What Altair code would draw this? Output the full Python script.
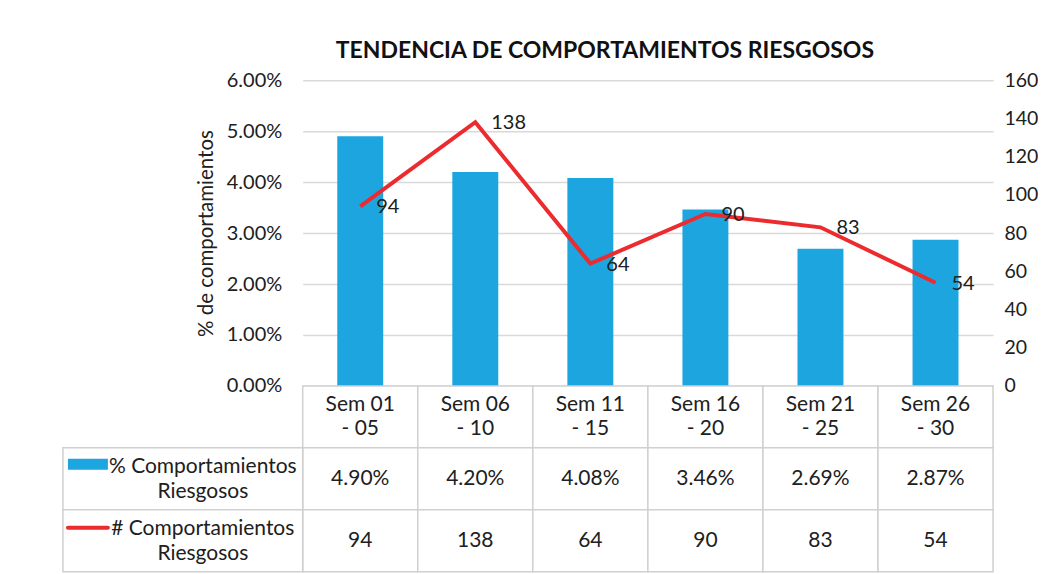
import altair as alt
import pandas as pd

# ---------------- data ----------------
categories = ["Sem 01\n- 05", "Sem 06\n- 10", "Sem 11\n- 15", "Sem 16\n- 20", "Sem 21\n- 25", "Sem 26\n- 30"]
pct_values = [0.0490, 0.0420, 0.0408, 0.0346, 0.0269, 0.0287]
count_values = [94, 138, 64, 90, 83, 54]
series_names = ["% Comportamientos\nRiesgosos", "# Comportamientos\nRiesgosos"]
pct_ticks = [0.0, 0.01, 0.02, 0.03, 0.04, 0.05, 0.06]
count_ticks = [0, 20, 40, 60, 80, 100, 120, 140, 160]
row_keys = ["header", "pct", "count"]

# ---------------- style ----------------
FONT = "Lato"
BLUE = "#1DA5E0"
RED = "#EC2B2E"
GRID = "#D0D0D0"
TXT = "#202020"

df = pd.DataFrame({"cat": categories, "pct": pct_values, "count": count_values})

x_main = alt.X("cat:N", sort=categories,
               scale=alt.Scale(domain=categories, paddingInner=0, paddingOuter=0), axis=None)

bars = alt.Chart(df).mark_bar(size=46, color=BLUE).encode(
    x=x_main,
    y=alt.Y("pct:Q", scale=alt.Scale(domain=[0, 0.06], nice=False),
            axis=alt.Axis(values=pct_ticks, format=".2%", title="% de comportamientos",
                          orient="left", grid=True, gridColor="#D9D9D9", gridWidth=1.5,
                          domain=False, ticks=False, labelPadding=21, labelFontSize=20,
                          titleFontSize=20.5, titleFontWeight="normal", titlePadding=10,
                          labelColor=TXT, titleColor=TXT, labelFont=FONT, titleFont=FONT)),
)

line = alt.Chart(df).mark_line(color=RED, strokeWidth=4).encode(
    x=x_main,
    y=alt.Y("count:Q", scale=alt.Scale(domain=[0, 160], nice=False),
            axis=alt.Axis(values=count_ticks, orient="right", grid=False, domain=False,
                          ticks=False, labelPadding=11, labelFontSize=19.5, title=None,
                          labelColor=TXT, labelFont=FONT)),
)
line_labels = alt.Chart(df).mark_text(align="left", baseline="middle", dx=16, dy=1,
                                      fontSize=20, font=FONT, color=TXT).encode(
    x=x_main,
    y=alt.Y("count:Q", scale=alt.Scale(domain=[0, 160], nice=False), axis=None),
    text="count:Q",
)

main = alt.layer(bars, line, line_labels).resolve_scale(y="independent").properties(
    width=691, height=306,
    title=alt.TitleParams("TENDENCIA DE COMPORTAMIENTOS RIESGOSOS", font=FONT, fontSize=23,
                          fontWeight="bold", color="#111111", anchor="middle", frame="group",
                          dx=-43, offset=7),
)

# ---------------- data table ----------------
rows = []
for c, p, n in zip(categories, pct_values, count_values):
    rows.append({"cat": c, "row": "header", "text": c})
    rows.append({"cat": c, "row": "pct", "text": f"{p * 100:.2f}%"})
    rows.append({"cat": c, "row": "count", "text": str(n)})
table_df = pd.DataFrame(rows)

xt = alt.X("cat:N", sort=categories,
           scale=alt.Scale(domain=categories, paddingInner=0, paddingOuter=0), axis=None)
yt = alt.Y("row:N", sort=row_keys,
           scale=alt.Scale(domain=row_keys, paddingInner=0, paddingOuter=0), axis=None)

cells = alt.Chart(table_df).mark_rect(fill="white", stroke=GRID, strokeWidth=1.5).encode(x=xt, y=yt)
header_text = alt.Chart(table_df).transform_filter(alt.datum.row == "header").mark_text(
    fontSize=21, font=FONT, color=TXT, lineBreak="\n", lineHeight=24, baseline="middle",
    dy=-12).encode(x=xt, y=yt, text="text:N")
value_text = alt.Chart(table_df).transform_filter(alt.datum.row != "header").mark_text(
    fontSize=21, font=FONT, color=TXT, baseline="middle").encode(x=xt, y=yt, text="text:N")

label_df = pd.DataFrame({"row": ["pct", "count"], "name": series_names})
label_cells = alt.Chart(label_df).mark_rect(fill="white", stroke=GRID, strokeWidth=1.5).encode(
    x=alt.value(-240), x2=alt.value(0), y=yt)
label_text = alt.Chart(label_df).mark_text(fontSize=21, font=FONT, color=TXT, lineBreak="\n",
                                           lineHeight=25, align="center", baseline="middle",
                                           dy=-11.5).encode(
    x=alt.value(-100), y=yt, text="name:N")
swatch_bar = alt.Chart(label_df).transform_filter(alt.datum.row == "pct").mark_rule(
    color=BLUE, strokeWidth=11, strokeCap="butt").encode(
    x=alt.value(-235), x2=alt.value(-195), y=yt, yOffset=alt.value(16.5))
swatch_line = alt.Chart(label_df).transform_filter(alt.datum.row == "count").mark_rule(
    color=RED, strokeWidth=4, strokeCap="round").encode(
    x=alt.value(-235), x2=alt.value(-195), y=yt, yOffset=alt.value(18))

table = alt.layer(cells, header_text, value_text, label_cells, label_text,
                  swatch_bar, swatch_line).properties(width=691, height=186)

chart = alt.vconcat(main, table, spacing=0, bounds="flush").properties(
    padding={"left": 54, "top": 32, "right": 0, "bottom": 0},
    background="white",
).configure_view(stroke=None)

chart.save("out.html", embed_options={"renderer": "svg", "actions": False})
